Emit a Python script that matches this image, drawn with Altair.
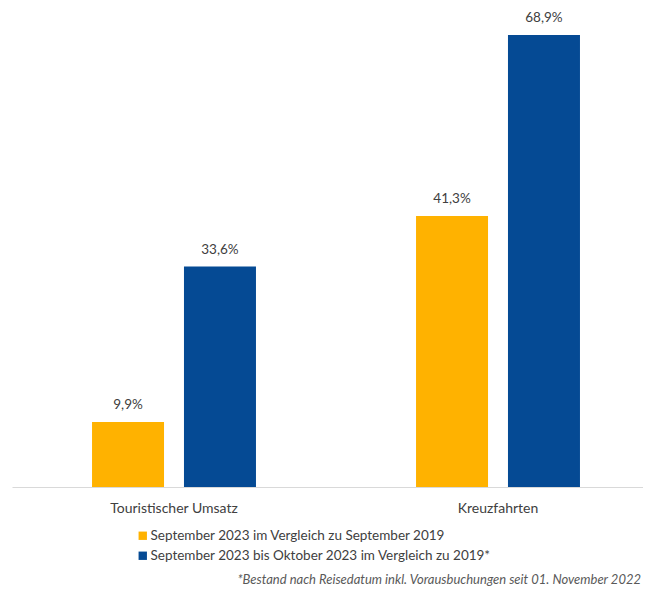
import altair as alt
import pandas as pd

categories = ["Touristischer Umsatz", "Kreuzfahrten"]
series = ["September 2023 im Vergleich zu September 2019",
          "September 2023 bis Oktober 2023 im Vergleich zu 2019*"]
values_sep = [9.9, 41.3]
values_sep_okt = [33.6, 68.9]
colors = ["#FFB200", "#054A94"]
footnote = ["*Bestand nach Reisedatum inkl. Vorausbuchungen seit 01. November 2022"]

rows = []
for c, v1, v2 in zip(categories, values_sep, values_sep_okt):
    rows.append({"cat": c, "series": series[0], "value": v1})
    rows.append({"cat": c, "series": series[1], "value": v2})
df = pd.DataFrame(rows)
df["label"] = df["value"].map(lambda v: f"{v:.1f}".replace(".", ",") + "%")

FONT = "Lato"

base = alt.Chart(df).encode(
    x=alt.X("cat:N", sort=categories, title=None,
            scale=alt.Scale(range=[4, 652], paddingInner=0.494, paddingOuter=0.247),
            axis=alt.Axis(labelAngle=0, ticks=False, domainColor="#D9D9D9", domainWidth=1,
                          labelFont=FONT, labelFontSize=14, labelColor="#404040",
                          labelPadding=14)),
    xOffset=alt.XOffset("series:N", sort=series,
                        scale=alt.Scale(paddingInner=0.217, paddingOuter=0)),
    y=alt.Y("value:Q", scale=alt.Scale(domain=[0, 73], nice=False), axis=None),
)

bars = base.mark_bar().encode(
    color=alt.Color("series:N", sort=series,
                    scale=alt.Scale(domain=series, range=colors),
                    legend=alt.Legend(title=None, orient="none", legendX=128, legendY=521,
                                      symbolType="square", symbolSize=70,
                                      symbolStrokeWidth=0, labelFont=FONT,
                                      labelFontSize=13.5, labelColor="#404040",
                                      rowPadding=5, labelOffset=1, labelLimit=500)),
)

labels = base.mark_text(dy=-10, baseline="bottom", font=FONT, fontSize=13.5,
                        color="#404040").encode(text="label:N")

note = alt.Chart(pd.DataFrame({"t": footnote})).mark_text(
    align="right", baseline="middle", font=FONT, fontSize=13, fontStyle="italic",
    color="#595959"
).encode(text="t:N", x=alt.value(633), y=alt.value(572))

chart = (bars + labels + note).properties(
    width=635, height=479,
    autosize=alt.AutoSizeParams(type="none"),
    padding={"left": 0, "top": 0, "right": 0, "bottom": 106},
).configure_view(stroke=None)

chart.save("out.html", embed_options={"renderer": "svg", "actions": False})
